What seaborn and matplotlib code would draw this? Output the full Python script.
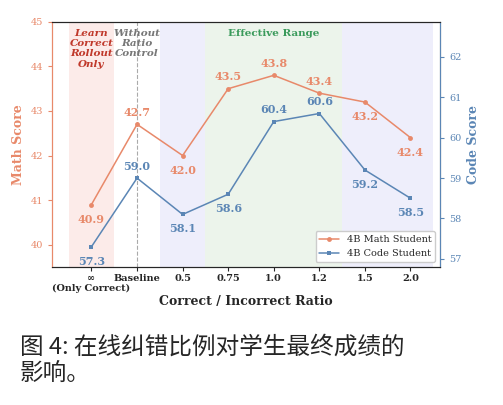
import matplotlib
matplotlib.use("Agg")
import matplotlib.pyplot as plt
import seaborn as sns
import pandas as pd

sns.set_style("white")
plt.rcParams['font.family'] = ['DejaVu Serif']

labels = ["∞\n(Only Correct)", "Baseline", "0.5", "0.75", "1.0", "1.2", "1.5", "2.0"]
math_scores = [40.9, 42.7, 42.0, 43.5, 43.8, 43.4, 43.2, 42.4]
code_scores = [57.3, 59.0, 58.1, 58.6, 60.4, 60.6, 59.2, 58.5]

math_c = "#e8896a"
code_c = "#5b86b5"
df = pd.DataFrame({"x": range(len(labels)), "math": math_scores, "code": code_scores})

fig = plt.figure(figsize=(5.03, 4.05), dpi=100)
ax = fig.add_axes([0.103, 0.341, 0.772, 0.605])
ax2 = ax.twinx()

ax.axvspan(-0.5, 0.5, color="#fbe3e0", alpha=0.7, lw=0)
ax.axvspan(1.5, 2.5, color="#e8e8fa", alpha=0.7, lw=0)
ax.axvspan(2.5, 5.5, color="#e5f0e3", alpha=0.7, lw=0)
ax.axvspan(5.5, 7.5, color="#e8e8fa", alpha=0.7, lw=0)
ax.axvline(1, color="#aaaaaa", ls="--", lw=0.8)

sns.lineplot(data=df, x="x", y="math", ax=ax, color=math_c, marker="o", markersize=3.5,
             markeredgewidth=0, lw=1.1, label="4B Math Student", legend=False)
sns.lineplot(data=df, x="x", y="code", ax=ax2, color=code_c, marker="s", markersize=3.5,
             markeredgewidth=0, lw=1.1, label="4B Code Student", legend=False)

for i, v in enumerate(math_scores):
    off = -13 if i in (0, 2, 6, 7) else 6
    ax.annotate(f"{v:.1f}", (i, v), xytext=(0, off), textcoords="offset points",
                ha="center", fontsize=8, fontweight="bold", color=math_c)
for i, v in enumerate(code_scores):
    off = -13 if i in (0, 2, 3, 6, 7) else 6
    ax2.annotate(f"{v:.1f}", (i, v), xytext=(0, off), textcoords="offset points",
                 ha="center", fontsize=8, fontweight="bold", color=code_c)

ax.set_xlim(-0.87, 7.65)
ax.set_ylim(39.5, 45.0)
ax2.set_ylim(56.8, 62.87)
ax.set_xticks(range(len(labels)))
ax.set_xticklabels(labels, fontsize=7, fontweight="bold")
ax.tick_params(axis="y", labelsize=7, colors=math_c, length=3, left=True)
ax2.tick_params(axis="y", labelsize=7, colors=code_c, length=3, right=True)
ax.tick_params(axis="x", length=3, bottom=True, pad=2)
ax.set_ylabel("Math Score", color=math_c, fontsize=9, fontweight="bold")
ax2.set_ylabel("Code Score", color=code_c, fontsize=9, fontweight="bold")
ax.set_xlabel("Correct / Incorrect Ratio", fontsize=9, fontweight="bold", labelpad=1)
ax.spines["left"].set_color(math_c)
ax2.spines["left"].set_color(math_c)
ax2.spines["right"].set_color(code_c)

ax.text(0, 44.85, "Learn\nCorrect\nRollout\nOnly", ha="center", va="top", fontsize=7.5,
        fontweight="bold", fontstyle="italic", color="#c0392b")
ax.text(1, 44.85, "Without\nRatio\nControl", ha="center", va="top", fontsize=7.5,
        fontweight="bold", fontstyle="italic", color="#777777")
ax.text(4, 44.75, "Effective Range", ha="center", va="center", fontsize=7.5,
        fontweight="bold", color="#3a9a5b")

h1, l1 = ax.get_legend_handles_labels()
h2, l2 = ax2.get_legend_handles_labels()
ax2.legend(h1 + h2, l1 + l2, loc="lower right", fontsize=7, frameon=True, framealpha=1)

fig.text(0.04, 0.11, "图 4: 在线纠错比例对学生最终成绩的\n影响。", fontsize=17,
         family=["Noto Sans CJK SC", "DejaVu Sans"], va="center", linespacing=1.2)

fig.savefig("out.png", dpi=100)
